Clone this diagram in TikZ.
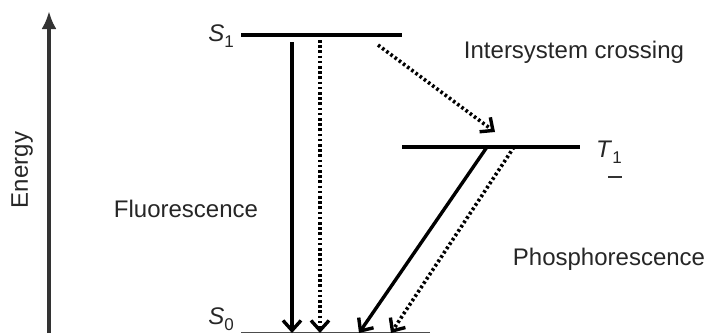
\documentclass[tikz,border=0pt]{standalone}
\usepackage{fontspec}
\setmainfont{Liberation Sans}
\usetikzlibrary{arrows.meta}
\begin{document}
\begin{tikzpicture}[x=1pt,y=-1pt,
  lbl/.style={font=\fontsize{24}{28}\selectfont, text=black!85, inner sep=0pt},
  level/.style={line width=4pt, black},
  solidarrow/.style={line width=3.4pt, -{Straight Barb[length=10pt,width=18pt,line width=3.4pt]}},
  dotarrow/.style={line width=3.6pt, dash pattern=on 2.6pt off 2.6pt, -{Straight Barb[length=10pt,width=18pt,line width=3.4pt]}},
  axis/.style={line width=3.6pt, black!80, -{Latex[length=18pt,width=15pt]}}]
\useasboundingbox (0,0) rectangle (710,333);
% energy axis
\coordinate (ea) at (49,333);
\coordinate (eb) at (49,11);
\draw[axis] (ea) -- (eb);
\node[lbl, rotate=90] (energy) at (22,170) {Energy};
% levels
\coordinate (s1a) at (241,35);
\coordinate (s1b) at (402,35);
\coordinate (t1a) at (402,147);
\coordinate (t1b) at (580,147);
\coordinate (s0a) at (241,332.5);
\coordinate (s0b) at (430,332.5);
\draw[level] (s1a) -- (s1b);
\draw[level] (t1a) -- (t1b);
\draw[line width=1.2pt, black!70] (s0a) -- (s0b);
% level labels
\node[lbl, anchor=east] (s1) at (234,36) {\textit{S}\raisebox{-6pt}{\fontsize{17}{20}\selectfont 1}};
\node[lbl, anchor=west] (t1) at (596,152) {\textit{T}\raisebox{-6pt}{\fontsize{17}{20}\selectfont 1}};
\node[lbl, anchor=east] (s0) at (234,319) {\textit{S}\raisebox{-6pt}{\fontsize{17}{20}\selectfont 0}};
\coordinate (ula) at (608,177);
\coordinate (ulb) at (622,177);
\draw[line width=1.8pt, black!80] (ula) -- (ulb);
% transitions
\coordinate (fa) at (292,42);
\coordinate (fb) at (292,333);
\coordinate (da) at (320,40);
\coordinate (db) at (320,333);
\coordinate (ia) at (378,45);
\coordinate (ib) at (495,132);
\coordinate (pa) at (487,147);
\coordinate (pb) at (359,333);
\coordinate (qa) at (514,147);
\coordinate (qb) at (391,333);
\draw[solidarrow] (fa) -- (fb);
\draw[dotarrow] (da) -- (db);
\draw[dotarrow] (ia) -- (ib);
\draw[solidarrow] (pa) -- (pb);
\draw[dotarrow] (qa) -- (qb);
% texts
\node[lbl] (isc) at (574,52) {Intersystem crossing};
\node[lbl] (fl) at (186,209) {Fluorescence};
\node[lbl] (ph) at (609,259) {Phosphorescence};
\end{tikzpicture}
\end{document}
